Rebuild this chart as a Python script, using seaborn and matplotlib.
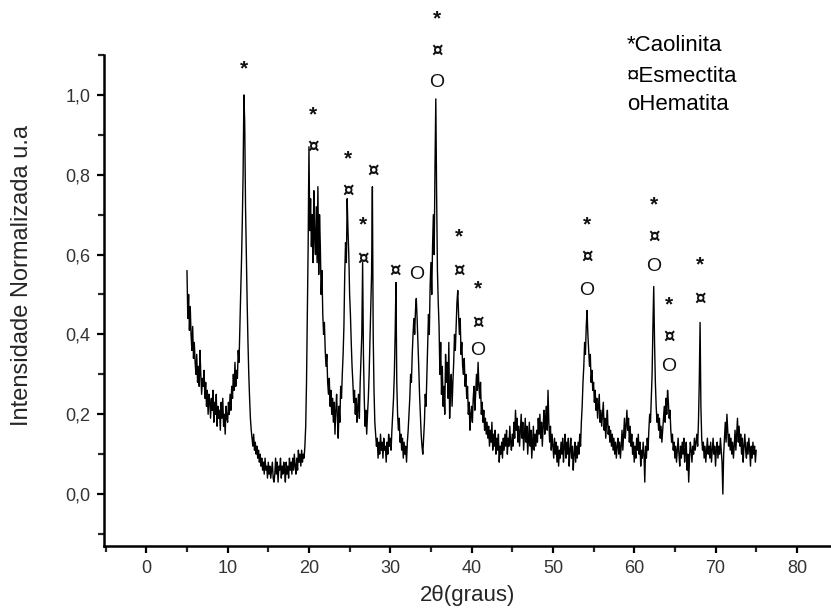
import numpy as np
import pandas as pd
import matplotlib
matplotlib.use("Agg")
import matplotlib.pyplot as plt
import seaborn as sns
from matplotlib.ticker import MultipleLocator, FuncFormatter

# 2-theta grid (degrees), 0.1 step from 5 to 75
two_theta = np.round(np.arange(5.0, 75.0001, 0.1), 1)

intensity = [
    0.56, 0.44, 0.50, 0.41, 0.47, 0.40, 0.36, 0.42, 0.34, 0.38,  # 5
    0.33, 0.30, 0.35, 0.28, 0.32, 0.27, 0.36, 0.30, 0.25, 0.29,  # 6
    0.27, 0.31, 0.24, 0.28, 0.22, 0.26, 0.20, 0.25, 0.23, 0.19,  # 7
    0.24, 0.21, 0.26, 0.18, 0.23, 0.20, 0.25, 0.17, 0.22, 0.19,  # 8
    0.21, 0.16, 0.23, 0.19, 0.24, 0.17, 0.20, 0.15, 0.22, 0.19,  # 9
    0.18, 0.23, 0.20, 0.25, 0.21, 0.27, 0.24, 0.30, 0.26, 0.33,  # 10
    0.27, 0.31, 0.29, 0.36, 0.33, 0.42, 0.50, 0.58, 0.68, 0.80,  # 11
    1.00, 0.93, 0.72, 0.60, 0.48, 0.38, 0.30, 0.24, 0.19, 0.16,  # 12
    0.14, 0.12, 0.15, 0.11, 0.13, 0.10, 0.12, 0.09, 0.11, 0.08,  # 13
    0.10, 0.07, 0.09, 0.06, 0.08, 0.05, 0.09, 0.06, 0.07, 0.04,  # 14
    0.08, 0.05, 0.07, 0.04, 0.06, 0.08, 0.04, 0.03, 0.05, 0.09,  # 15
    0.05, 0.08, 0.03, 0.07, 0.06, 0.09, 0.04, 0.07, 0.05, 0.08,  # 16
    0.06, 0.03, 0.08, 0.05, 0.07, 0.04, 0.09, 0.06, 0.08, 0.05,  # 17
    0.09, 0.06, 0.10, 0.07, 0.05, 0.09, 0.06, 0.11, 0.08, 0.10,  # 18
    0.07, 0.11, 0.08, 0.10, 0.09, 0.12, 0.17, 0.28, 0.45, 0.62,  # 19
    0.87, 0.66, 0.74, 0.62, 0.70, 0.58, 0.76, 0.64, 0.60, 0.72,  # 20
    0.58, 0.77, 0.55, 0.70, 0.62, 0.50, 0.56, 0.45, 0.40, 0.43,  # 21
    0.36, 0.32, 0.35, 0.28, 0.25, 0.29, 0.22, 0.26, 0.20, 0.24,  # 22
    0.18, 0.23, 0.15, 0.21, 0.25, 0.19, 0.14, 0.22, 0.18, 0.27,  # 23
    0.24, 0.30, 0.35, 0.42, 0.55, 0.63, 0.58, 0.74, 0.66, 0.60,  # 24
    0.50, 0.45, 0.38, 0.32, 0.28, 0.23, 0.26, 0.20, 0.24, 0.18,  # 25
    0.22, 0.25, 0.19, 0.28, 0.34, 0.40, 0.58, 0.35, 0.24, 0.17,  # 26
    0.21, 0.15, 0.20, 0.24, 0.30, 0.38, 0.45, 0.55, 0.77, 0.40,  # 27
    0.26, 0.18, 0.15, 0.12, 0.14, 0.09, 0.13, 0.10, 0.15, 0.11,  # 28
    0.13, 0.09, 0.14, 0.11, 0.12, 0.08, 0.13, 0.10, 0.15, 0.12,  # 29
    0.14, 0.11, 0.16, 0.20, 0.24, 0.30, 0.40, 0.53, 0.28, 0.20,  # 30
    0.16, 0.19, 0.13, 0.15, 0.11, 0.14, 0.09, 0.13, 0.10, 0.12,  # 31
    0.08, 0.13, 0.16, 0.20, 0.24, 0.30, 0.28, 0.35, 0.40, 0.44,  # 32
    0.40, 0.46, 0.49, 0.44, 0.38, 0.32, 0.25, 0.20, 0.15, 0.12,  # 33
    0.10, 0.14, 0.18, 0.25, 0.22, 0.30, 0.38, 0.45, 0.40, 0.52,  # 34
    0.58, 0.50, 0.62, 0.70, 0.60, 0.82, 0.99, 0.75, 0.56, 0.48,  # 35
    0.42, 0.30, 0.38, 0.25, 0.32, 0.22, 0.27, 0.20, 0.35, 0.28,  # 36
    0.33, 0.24, 0.38, 0.19, 0.26, 0.30, 0.22, 0.28, 0.33, 0.40,  # 37
    0.36, 0.42, 0.48, 0.51, 0.45, 0.40, 0.44, 0.35, 0.38, 0.32,  # 38
    0.30, 0.34, 0.27, 0.30, 0.24, 0.27, 0.20, 0.23, 0.16, 0.20,  # 39
    0.22, 0.18, 0.24, 0.27, 0.21, 0.25, 0.30, 0.26, 0.33, 0.27,  # 40
    0.24, 0.28, 0.20, 0.23, 0.18, 0.21, 0.16, 0.19, 0.15, 0.18,  # 41
    0.14, 0.17, 0.12, 0.16, 0.13, 0.18, 0.11, 0.15, 0.12, 0.16,  # 42
    0.10, 0.14, 0.11, 0.15, 0.08, 0.12, 0.10, 0.13, 0.09, 0.14,  # 43
    0.11, 0.15, 0.12, 0.16, 0.10, 0.14, 0.12, 0.17, 0.13, 0.11,  # 44
    0.15, 0.12, 0.18, 0.14, 0.21, 0.16, 0.19, 0.13, 0.17, 0.12,  # 45
    0.16, 0.20, 0.14, 0.18, 0.11, 0.15, 0.19, 0.13, 0.17, 0.10,  # 46
    0.14, 0.18, 0.12, 0.16, 0.09, 0.13, 0.17, 0.11, 0.15, 0.12,  # 47
    0.16, 0.13, 0.19, 0.15, 0.20, 0.14, 0.18, 0.12, 0.17, 0.21,  # 48
    0.15, 0.19, 0.22, 0.16, 0.26, 0.18, 0.13, 0.17, 0.11, 0.15,  # 49
    0.12, 0.09, 0.14, 0.10, 0.13, 0.08, 0.12, 0.07, 0.11, 0.09,  # 50
    0.13, 0.10, 0.14, 0.08, 0.12, 0.15, 0.09, 0.13, 0.10, 0.14,  # 51
    0.07, 0.11, 0.14, 0.09, 0.12, 0.06, 0.10, 0.13, 0.08, 0.12,  # 52
    0.09, 0.13, 0.10, 0.15, 0.12, 0.18, 0.22, 0.28, 0.32, 0.38,  # 53
    0.35, 0.42, 0.46, 0.40, 0.36, 0.32, 0.35, 0.28, 0.31, 0.26,  # 54
    0.28, 0.23, 0.26, 0.21, 0.24, 0.19, 0.22, 0.25, 0.18, 0.21,  # 55
    0.17, 0.20, 0.23, 0.16, 0.19, 0.14, 0.18, 0.21, 0.15, 0.17,  # 56
    0.13, 0.16, 0.12, 0.15, 0.11, 0.14, 0.10, 0.13, 0.09, 0.12,  # 57
    0.14, 0.10, 0.13, 0.09, 0.12, 0.16, 0.11, 0.15, 0.19, 0.14,  # 58
    0.17, 0.21, 0.16, 0.19, 0.13, 0.17, 0.12, 0.15, 0.10, 0.13,  # 59
    0.08, 0.12, 0.09, 0.14, 0.11, 0.15, 0.10, 0.13, 0.07, 0.11,  # 60
    0.09, 0.13, 0.10, 0.03, 0.12, 0.09, 0.14, 0.11, 0.16, 0.20,  # 61
    0.18, 0.24, 0.30, 0.42, 0.52, 0.38, 0.28, 0.22, 0.18, 0.20,  # 62
    0.16, 0.19, 0.14, 0.17, 0.13, 0.16, 0.19, 0.22, 0.18, 0.24,  # 63
    0.20, 0.26, 0.23, 0.19, 0.21, 0.16, 0.13, 0.15, 0.11, 0.13,  # 64
    0.09, 0.12, 0.08, 0.11, 0.14, 0.10, 0.07, 0.12, 0.09, 0.13,  # 65
    0.10, 0.14, 0.08, 0.11, 0.13, 0.06, 0.10, 0.03, 0.09, 0.13,  # 66
    0.11, 0.08, 0.12, 0.10, 0.14, 0.11, 0.13, 0.15, 0.12, 0.18,  # 67
    0.28, 0.43, 0.22, 0.14, 0.11, 0.13, 0.09, 0.12, 0.08, 0.11,  # 68
    0.14, 0.10, 0.12, 0.09, 0.13, 0.08, 0.11, 0.14, 0.10, 0.12,  # 69
    0.07, 0.11, 0.13, 0.09, 0.12, 0.10, 0.14, 0.11, 0.08, 0.00,  # 70
    0.10, 0.14, 0.18, 0.13, 0.20, 0.16, 0.12, 0.15, 0.11, 0.14,  # 71
    0.10, 0.13, 0.09, 0.12, 0.16, 0.11, 0.15, 0.19, 0.13, 0.17,  # 72
    0.12, 0.15, 0.10, 0.14, 0.08, 0.12, 0.15, 0.11, 0.09, 0.13,  # 73
    0.10, 0.14, 0.11, 0.07, 0.12, 0.09, 0.13, 0.10, 0.12, 0.08,  # 74
    0.11,                                                        # 75
]

# phase annotations: (2theta, y, symbol)
label_x = [12.0, 20.5, 20.5, 24.8, 24.8, 26.7, 26.7, 27.9, 30.6, 33.3,
           35.7, 35.7, 35.7, 38.5, 38.5, 40.8, 40.8, 40.8,
           54.2, 54.2, 54.2, 62.4, 62.4, 62.4, 64.3, 64.3, 64.3, 68.1, 68.1]
label_y = [1.065, 0.95, 0.87, 0.84, 0.76, 0.675, 0.59, 0.81, 0.56, 0.55,
           1.19, 1.11, 1.03, 0.645, 0.56, 0.515, 0.43, 0.36,
           0.675, 0.595, 0.51, 0.725, 0.645, 0.57, 0.475, 0.395, 0.32, 0.575, 0.49]
label_s = ["*", "*", "¤", "*", "¤", "*", "¤", "¤", "¤", "O",
           "*", "¤", "O", "*", "¤", "*", "¤", "O",
           "*", "¤", "O", "*", "¤", "O", "*", "¤", "O", "*", "¤"]

legend_lines = ["*Caolinita", "¤Esmectita", "oHematita"]

df = pd.DataFrame({"2theta": two_theta[:len(intensity)], "I": intensity})

sns.set_style("ticks")
plt.rcParams["font.family"] = ["Liberation Sans", "DejaVu Sans"]

fig = plt.figure(figsize=(8.31, 6.09), dpi=100)
ax = fig.add_axes([0.1252, 0.1035, 0.8748, 0.8062])

sns.lineplot(data=df, x="2theta", y="I", ax=ax, color="black", linewidth=1.0)

ax.set_xlim(-5.2, 84.2)
ax.set_ylim(-0.13, 1.1)

ax.xaxis.set_major_locator(MultipleLocator(10))
ax.xaxis.set_minor_locator(MultipleLocator(5))
ax.yaxis.set_major_locator(MultipleLocator(0.2))
ax.yaxis.set_minor_locator(MultipleLocator(0.1))
ax.yaxis.set_major_formatter(FuncFormatter(lambda v, p: f"{v:.1f}".replace(".", ",")))
ax.xaxis.set_major_formatter(FuncFormatter(lambda v, p: f"{v:.0f}"))

ax.tick_params(axis="both", which="major", direction="out", length=5, width=1.6,
               labelsize=13, colors="black", pad=5)
ax.tick_params(axis="both", which="minor", direction="out", length=4, width=1.6)
for lab in ax.get_xticklabels() + ax.get_yticklabels():
    lab.set_color("#333333")

for side in ["top", "right"]:
    ax.spines[side].set_visible(False)
for side in ["left", "bottom"]:
    ax.spines[side].set_linewidth(1.8)
    ax.spines[side].set_color("black")

ax.set_xlabel("2θ(graus)", fontsize=16, labelpad=6)
ax.set_ylabel("Intensidade Normalizada u.a", fontsize=17)
ax.yaxis.set_label_coords(-0.098, 0.55)

for xv, yv, s in zip(label_x, label_y, label_s):
    if s == "*":
        ax.text(xv, yv, s, ha="center", va="center", fontsize=15, color="#111111",
                family=["Liberation Sans", "DejaVu Sans"], fontweight="bold")
    elif s == "O":
        ax.text(xv, yv, s, ha="center", va="center", fontsize=14, color="#111111",
                family=["Liberation Sans", "DejaVu Sans"])
    else:
        ax.text(xv, yv, s, ha="center", va="center", fontsize=13, color="#111111",
                family=["DejaVu Sans"], fontweight="bold")

legend_y = [1.125, 1.045, 0.975]
for t, yv in zip(legend_lines, legend_y):
    ax.text(59.1, yv, t, ha="left", va="center", fontsize=16, color="black",
            clip_on=False)

fig.savefig("out.png", dpi=100)
